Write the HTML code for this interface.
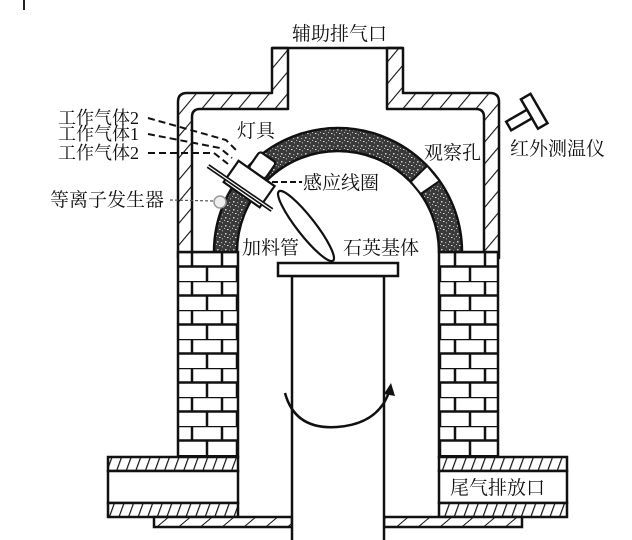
<!DOCTYPE html>
<html><head><meta charset="utf-8">
<style>
html,body{margin:0;padding:0;background:#fff;}
svg{display:block;}
text{font-family:"Liberation Serif","Noto Serif CJK SC",serif;fill:#111;}
</style></head><body>
<svg width="632" height="540" viewBox="0 0 632 540" xmlns="http://www.w3.org/2000/svg">
<defs>
<pattern id="hatch" patternUnits="userSpaceOnUse" width="14" height="14" patternTransform="rotate(40)">
<rect width="14" height="14" fill="#fff"/><line x1="0" y1="0" x2="0" y2="14" stroke="#111" stroke-width="2.2"/>
</pattern>
<pattern id="hatch2" patternUnits="userSpaceOnUse" width="9" height="9" patternTransform="rotate(20)">
<rect width="9" height="9" fill="#fff"/><line x1="0" y1="0" x2="0" y2="9" stroke="#111" stroke-width="2.4"/>
</pattern>
<pattern id="hatch3" patternUnits="userSpaceOnUse" width="14" height="14" patternTransform="rotate(50)">
<rect width="14" height="14" fill="#fff"/><line x1="0" y1="0" x2="0" y2="14" stroke="#111" stroke-width="2"/>
</pattern>
<pattern id="speck" patternUnits="userSpaceOnUse" width="8" height="8">
<rect width="8" height="8" fill="#3a3a3a"/>
<rect x="1" y="1" width="1.5" height="1.5" fill="#ccc"/>
<rect x="5" y="2" width="1.2" height="1.2" fill="#aaa"/>
<rect x="3" y="5" width="1.5" height="1" fill="#ddd"/>
<rect x="6" y="6" width="1" height="1.5" fill="#999"/>
<rect x="0" y="4" width="1" height="1" fill="#bbb"/>
</pattern>
<pattern id="brick" patternUnits="userSpaceOnUse" x="0" y="252" width="30" height="29">
<rect width="30" height="29" fill="#fff"/>
<line x1="0" y1="0" x2="30" y2="0" stroke="#111" stroke-width="2.5"/>
<line x1="0" y1="14.5" x2="30" y2="14.5" stroke="#111" stroke-width="2.5"/>
<line x1="12" y1="0" x2="12" y2="14.5" stroke="#111" stroke-width="2.5"/>
<line x1="27" y1="14.5" x2="27" y2="29" stroke="#111" stroke-width="2.5"/>
</pattern>
<pattern id="brickR" patternUnits="userSpaceOnUse" x="0" y="252" width="30" height="29">
<rect width="30" height="29" fill="#fff"/>
<line x1="0" y1="0" x2="30" y2="0" stroke="#111" stroke-width="2.5"/>
<line x1="0" y1="14.5" x2="30" y2="14.5" stroke="#111" stroke-width="2.5"/>
<line x1="5" y1="0" x2="5" y2="14.5" stroke="#111" stroke-width="2.5"/>
<line x1="20" y1="14.5" x2="20" y2="29" stroke="#111" stroke-width="2.5"/>
</pattern>
</defs>

<line x1="24" y1="0" x2="24" y2="10" stroke="#222" stroke-width="2"/>

<!-- chamber walls -->
<path d="M178,258 V102 Q178,93 187,93 H272 V48 H288 V109 H200 Q192,109 192,117 V258 Z" fill="url(#hatch)" stroke="#111" stroke-width="2.5" stroke-linejoin="round"/>
<path d="M403,48 V93 H490 Q499,93 499,102 V258 H484 V117 Q484,109 476,109 H387 V48 Z" fill="url(#hatch)" stroke="#111" stroke-width="2.5" stroke-linejoin="round"/>
<line x1="272" y1="48" x2="403" y2="48" stroke="#111" stroke-width="2.5"/>

<!-- arch -->
<path d="M214,252 A124,124 0 0 1 462,252 L439,252 A101,101 0 0 0 237,252 Z" fill="url(#speck)" stroke="#111" stroke-width="2.5"/>
<!-- observation hole -->
<polygon points="420.7,194 439.6,180.9 427.2,165.8 410.7,181.8" fill="#fff" stroke="#111" stroke-width="2"/>

<!-- brick columns -->
<rect x="178" y="252" width="60" height="205" fill="url(#brick)" stroke="#111" stroke-width="2.5"/>
<rect x="439" y="252" width="59" height="205" fill="url(#brickR)" stroke="#111" stroke-width="2.5"/>

<!-- base bands -->
<rect x="108" y="457" width="130" height="14" fill="url(#hatch2)" stroke="#111" stroke-width="2.5"/>
<rect x="108" y="471" width="130" height="32" fill="#fff" stroke="#111" stroke-width="2.5"/>
<rect x="108" y="503" width="130" height="14" fill="url(#hatch2)" stroke="#111" stroke-width="2.5"/>
<rect x="154" y="517" width="138" height="10" fill="url(#hatch3)" stroke="#111" stroke-width="2.5"/>
<rect x="439" y="457" width="128" height="14" fill="url(#hatch2)" stroke="#111" stroke-width="2.5"/>
<rect x="439" y="471" width="128" height="32" fill="#fff" stroke="#111" stroke-width="2.5"/>
<rect x="439" y="503" width="128" height="14" fill="url(#hatch2)" stroke="#111" stroke-width="2.5"/>
<rect x="384" y="517" width="138" height="10" fill="url(#hatch3)" stroke="#111" stroke-width="2.5"/>

<!-- central tube and plate -->
<rect x="292" y="276" width="92" height="270" fill="#fff" stroke="#111" stroke-width="2.5"/>
<rect x="278" y="263" width="120" height="13" fill="#fff" stroke="#111" stroke-width="2.5"/>

<!-- rotation arrow -->
<path d="M285,393 Q295,430 337,427 Q378,424 389,392" fill="none" stroke="#111" stroke-width="2.5"/>
<polygon points="391,383 384,394 395,396" fill="#111"/>

<!-- thermometer -->
<g transform="translate(526,116) rotate(-30)">
<rect x="4" y="-17" width="11" height="34" fill="#fff" stroke="#111" stroke-width="2.5"/>
<rect x="-20" y="-5" width="24" height="10" fill="#fff" stroke="#111" stroke-width="2.5"/>
</g>

<!-- lamp assembly -->
<path d="M148,118 L226,140 L238,152" fill="none" stroke="#111" stroke-width="2" stroke-dasharray="7,4"/>
<path d="M148,134 L220,148 L232,158" fill="none" stroke="#111" stroke-width="2" stroke-dasharray="7,4"/>
<path d="M148,153 L214,153 L228,164" fill="none" stroke="#111" stroke-width="2" stroke-dasharray="7,4"/>
<ellipse cx="306" cy="226" rx="44" ry="9" transform="rotate(52 306 226)" fill="#fff" stroke="#111" stroke-width="2.2"/>
<g transform="translate(252,180) rotate(35)">
<rect x="-10" y="-28" width="20" height="20" rx="3" fill="#fff" stroke="#111" stroke-width="2.2"/>
<rect x="-22" y="-8" width="44" height="26" fill="#fff" stroke="#111" stroke-width="2.2"/>
</g>
<line x1="208" y1="166" x2="272" y2="210" stroke="#111" stroke-width="4.5"/>
<line x1="208" y1="166" x2="272" y2="210" stroke="#fff" stroke-width="1.2"/>
<circle cx="220" cy="202" r="6" fill="#eee" stroke="#999" stroke-width="1.5"/>
<line x1="272" y1="182" x2="302" y2="182" stroke="#111" stroke-width="2" stroke-dasharray="6,3"/>
<line x1="170" y1="200" x2="213" y2="201" stroke="#555" stroke-width="1.2" stroke-dasharray="3,2"/>

<!-- labels -->
<text x="292" y="40" font-size="19">辅助排气口</text>
<text x="58" y="124" font-size="18">工作气体2</text>
<text x="58" y="140" font-size="18">工作气体1</text>
<text x="58" y="159" font-size="18">工作气体2</text>
<text x="237" y="137" font-size="19">灯具</text>
<text x="424" y="159" font-size="19">观察孔</text>
<text x="510" y="155" font-size="19">红外测温仪</text>
<text x="303" y="189" font-size="19">感应线圈</text>
<text x="50" y="206" font-size="19">等离子发生器</text>
<text x="242" y="254" font-size="19">加料管</text>
<text x="343" y="254" font-size="19">石英基体</text>
<text x="450" y="494" font-size="19">尾气排放口</text>
</svg>
</body></html>
